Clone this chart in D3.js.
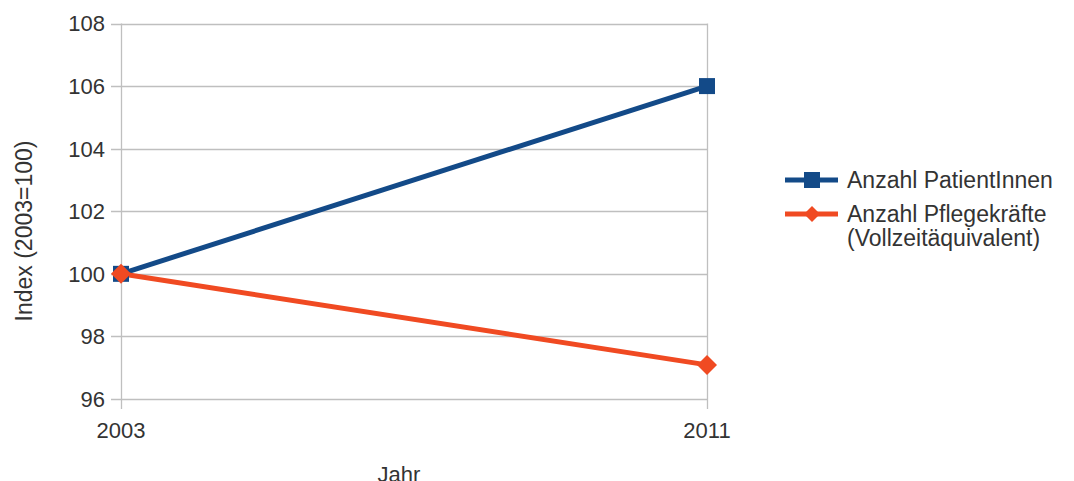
<!DOCTYPE html>
<html>
<head>
<meta charset="utf-8">
<script src="https://cdn.jsdelivr.net/npm/d3@7"></script>
<style>
  body { margin: 0; background: #fff; }
  text { font-family: "Liberation Sans", Arial, sans-serif; fill: #333; }
</style>
</head>
<body>
<div id="chart"></div>
<script>
// data
var years = ["2003", "2011"];
var patienten = [100, 106];
var pflege = [100, 97.09];
var yTicks = [96, 98, 100, 102, 104, 106, 108];
var seriesNames = ["Anzahl PatientInnen", "Anzahl Pflegekräfte\n(Vollzeitäquivalent)"];
var seriesColors = ["#134a88", "#f04a22"];

var width = 1074, height = 481;
var margin = {top: 23.5, right: 367, bottom: 82, left: 121};

var svg = d3.select("#chart").append("svg")
    .attr("width", width)
    .attr("height", height);

var x = d3.scalePoint()
    .domain(years)
    .range([margin.left, width - margin.right]);

var y = d3.scaleLinear()
    .domain([96, 108])
    .range([height - margin.bottom, margin.top]);

// horizontal grid + left tick marks
svg.append("g").selectAll("line")
    .data(yTicks)
    .enter().append("line")
    .attr("x1", margin.left - 10)
    .attr("x2", x("2011"))
    .attr("y1", function(d) { return Math.round(y(d)) + 0.5; })
    .attr("y2", function(d) { return Math.round(y(d)) + 0.5; })
    .attr("stroke", "#bfbfbf")
    .attr("stroke-width", 1.3);

// vertical lines at categories (extend below as ticks)
svg.append("g").selectAll("line")
    .data(years)
    .enter().append("line")
    .attr("x1", function(d) { return Math.round(x(d)) + 0.5; })
    .attr("x2", function(d) { return Math.round(x(d)) + 0.5; })
    .attr("y1", y(108))
    .attr("y2", y(96) + 10)
    .attr("stroke", "#bfbfbf")
    .attr("stroke-width", 1.3);

// y tick labels
svg.append("g").selectAll("text")
    .data(yTicks)
    .enter().append("text")
    .attr("x", margin.left - 16)
    .attr("y", function(d) { return y(d); })
    .attr("dy", "0.36em")
    .attr("text-anchor", "end")
    .style("font-size", "22px")
    .text(function(d) { return d; });

// x tick labels
svg.append("g").selectAll("text")
    .data(years)
    .enter().append("text")
    .attr("x", function(d) { return x(d); })
    .attr("y", y(96) + 39)
    .attr("text-anchor", "middle")
    .style("font-size", "22px")
    .text(function(d) { return d; });

// axis titles
svg.append("text")
    .attr("transform", "translate(32,231)rotate(-90)")
    .attr("text-anchor", "middle")
    .style("font-size", "23px")
    .text("Index (2003=100)");

svg.append("text")
    .attr("x", 399)
    .attr("y", 482)
    .attr("text-anchor", "middle")
    .style("font-size", "22px")
    .text("Jahr");

var line = d3.line()
    .x(function(d, i) { return x(years[i]); })
    .y(function(d) { return y(d); });

var series = [patienten, pflege];

series.forEach(function(vals, si) {
    svg.append("path")
        .datum(vals)
        .attr("d", line)
        .attr("fill", "none")
        .attr("stroke", seriesColors[si])
        .attr("stroke-width", 5);
});

// markers
var square = d3.symbol().type(d3.symbolSquare).size(256);
var diamond = function(s) {
    return "M0," + (-s) + "L" + s + ",0L0," + s + "L" + (-s) + ",0Z";
};

svg.append("g").selectAll("path")
    .data(patienten)
    .enter().append("path")
    .attr("d", square)
    .attr("transform", function(d, i) { return "translate(" + x(years[i]) + "," + y(d) + ")"; })
    .attr("fill", seriesColors[0]);

svg.append("g").selectAll("path")
    .data(pflege)
    .enter().append("path")
    .attr("d", diamond(10))
    .attr("transform", function(d, i) { return "translate(" + x(years[i]) + "," + y(d) + ")"; })
    .attr("fill", seriesColors[1]);

// legend
var legend = svg.append("g").attr("transform", "translate(785,180)");
var rows = [0, 34];

seriesNames.forEach(function(name, i) {
    var g = legend.append("g").attr("transform", "translate(0," + rows[i] + ")");
    g.append("line")
        .attr("x1", 0).attr("x2", 53)
        .attr("stroke", seriesColors[i])
        .attr("stroke-width", 5);
    if (i === 0) {
        g.append("path")
            .attr("d", square)
            .attr("transform", "translate(27,0)")
            .attr("fill", seriesColors[i]);
    } else {
        g.append("path")
            .attr("d", diamond(8))
            .attr("transform", "translate(27,0)")
            .attr("fill", seriesColors[i]);
    }
    var t = g.append("text")
        .attr("x", 62)
        .attr("y", 8)
        .style("font-size", "23px");
    name.split("\n").forEach(function(part, j) {
        t.append("tspan")
            .attr("x", 62)
            .attr("dy", j === 0 ? 0 : 24)
            .text(part);
    });
});
</script>
</body>
</html>
